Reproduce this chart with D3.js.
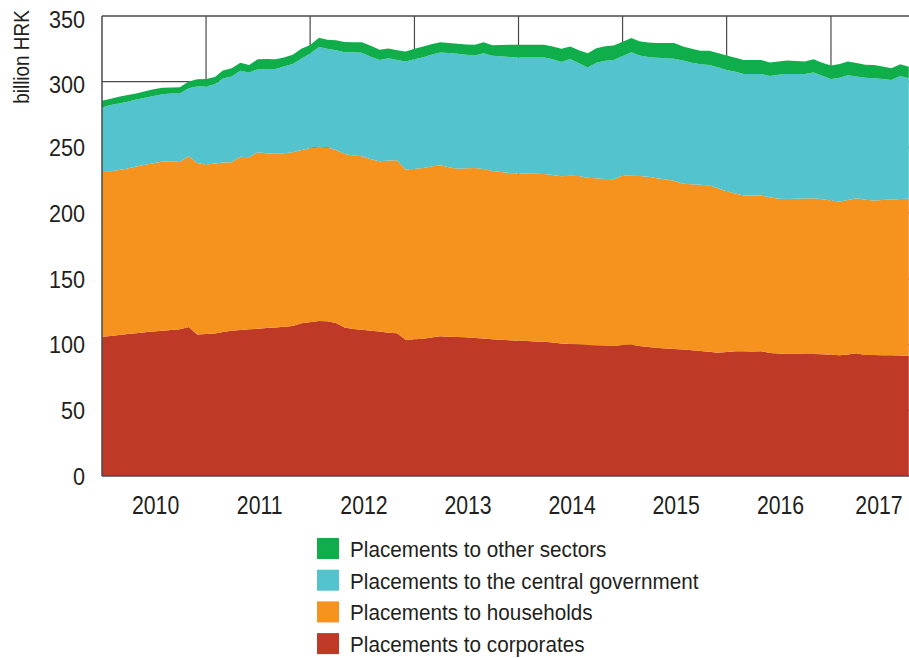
<!DOCTYPE html>
<html>
<head>
<meta charset="utf-8">
<script src="https://cdn.jsdelivr.net/npm/d3@7/dist/d3.min.js"></script>
<style>
  html, body { margin: 0; padding: 0; background: #fff; }
  svg { display: block; }
  text { font-family: "Liberation Sans", Arial, sans-serif; fill: #231f20; }
</style>
</head>
<body>
<svg id="chart" width="909" height="658"></svg>
<script>
// ---- data (billion HRK, monthly, Jan 2010 – Oct 2017) ----
const startMonth = new Date(2010, 0, 1);
const monthCount = 94;

const corporates = [
  106.0,106.5,107.2,108.0,108.7,109.3,110.0,110.5,111.0,111.6,113.3,107.7,
  108.0,108.5,109.5,110.6,111.0,111.6,112.0,112.6,113.0,113.6,114.1,116.2,
  117.0,118.0,117.7,116.5,113.0,111.8,111.2,110.6,110.0,109.0,108.7,103.6,
  104.0,104.4,105.3,106.4,106.0,105.8,105.6,105.0,104.6,104.0,103.7,103.2,
  103.0,102.7,102.4,102.1,101.5,100.9,100.4,100.0,99.7,99.4,99.3,99.0,
  99.6,99.8,99.0,98.2,97.6,97.1,96.6,96.2,95.7,95.2,94.6,93.8,
  94.4,95.0,95.0,94.8,95.0,93.5,93.3,93.1,93.0,92.9,92.8,92.7,
  92.3,91.9,92.5,93.4,92.0,92.0,91.9,91.8,91.6,91.5
];
const households = [
  126.1,125.3,125.6,125.9,126.8,127.5,128.0,128.8,128.4,127.3,130.0,130.5,
  129.0,129.3,129.0,128.1,132.0,130.9,134.3,132.9,132.3,132.0,132.2,131.8,
  132.3,132.6,132.3,131.5,132.0,132.0,132.1,130.4,129.4,131.0,131.5,129.7,
  129.7,130.0,130.2,130.0,129.0,128.0,128.6,129.4,128.9,128.1,127.6,127.3,
  127.2,127.4,127.6,127.7,127.5,127.2,128.1,128.2,127.2,127.1,126.7,126.7,
  129.1,128.7,129.3,129.4,128.9,128.5,128.0,126.2,126.3,126.4,126.5,125.2,
  122.2,120.0,118.4,118.6,118.4,118.5,117.7,117.6,118.0,118.3,118.6,117.8,
  117.3,117.0,117.5,118.0,118.2,117.6,118.1,118.6,119.1,119.4
];
const centralGovernment = [
  48.3,50.4,50.7,50.9,51.0,51.0,51.2,51.1,51.6,52.2,51.7,58.1,
  59.3,60.2,63.9,65.2,65.4,64.5,63.2,64.1,64.4,65.9,67.2,69.5,
  72.2,75.9,75.0,76.0,77.5,78.6,78.7,78.0,77.2,77.8,76.3,82.1,
  83.3,84.3,85.0,85.9,86.8,87.4,86.4,85.6,88.2,87.7,88.0,88.3,
  88.2,88.3,88.4,88.6,88.0,86.9,88.7,85.8,83.9,88.0,90.0,90.9,
  90.8,93.9,91.7,91.2,91.7,92.2,92.8,93.7,92.5,91.7,91.7,92.0,
  92.4,92.5,92.4,92.4,92.5,92.4,94.3,95.2,94.9,94.7,95.6,94.0,
  92.5,94.1,95.0,92.6,92.8,93.0,92.0,90.9,93.7,91.7
];
const otherSectors = [
  5.1,4.8,5.1,5.0,4.5,5.0,5.0,5.1,4.6,4.6,5.1,5.5,
  5.8,5.6,6.1,6.3,6.1,5.8,7.5,7.6,7.4,7.0,7.0,7.5,
  6.5,7.0,7.0,7.5,7.7,7.7,8.0,8.4,7.7,7.4,7.5,7.6,
  8.0,8.1,8.0,7.8,7.7,7.6,7.8,8.1,8.4,8.0,8.7,9.3,
  9.7,9.7,9.7,9.7,9.8,10.0,9.6,10.0,10.9,11.0,11.0,11.0,
  11.0,10.8,10.7,11.0,11.2,11.6,12.0,10.7,10.5,10.2,10.7,10.8,
  11.0,10.8,10.8,10.8,10.7,10.2,10.0,10.2,9.9,9.5,10.1,10.0,
  10.2,10.5,10.4,10.2,10.0,10.2,9.5,8.9,8.9,8.7
];

const seriesKeys = ["corporates", "households", "centralGovernment", "otherSectors"];
const seriesLabels = {
  otherSectors: "Placements to other sectors",
  centralGovernment: "Placements to the central government",
  households: "Placements to households",
  corporates: "Placements to corporates"
};
const seriesColors = {
  otherSectors: "#10ae4b",
  centralGovernment: "#53c3ce",
  households: "#f6921e",
  corporates: "#be3a26"
};
const legendOrder = ["otherSectors", "centralGovernment", "households", "corporates"];
const yTicks = [0, 50, 100, 150, 200, 250, 300, 350];
const yearLabels = [2010, 2011, 2012, 2013, 2014, 2015, 2016, 2017];

(function () {
// ---- build table ----
const months = d3.timeMonth.range(startMonth, d3.timeMonth.offset(startMonth, monthCount));
const table = months.map((d, i) => ({
  date: d,
  corporates: corporates[i],
  households: households[i],
  centralGovernment: centralGovernment[i],
  otherSectors: otherSectors[i]
}));

const svg = d3.select("#chart");
const mLeft = 102, mRight = 909, mTop = 16, mBottom = 476;

const x = d3.scaleTime()
  .domain([months[0], months[months.length - 1]])
  .range([mLeft, 908.8]);
const y = d3.scaleLinear().domain([0, 350]).range([mBottom, mTop]);

const axisColor = "#4a4a4a";

// horizontal gridlines
svg.append("g").selectAll("line")
  .data(yTicks.filter(t => t > 0 && t < 350))
  .join("line")
  .attr("x1", mLeft).attr("x2", mRight)
  .attr("y1", d => y(d)).attr("y2", d => y(d))
  .attr("stroke", axisColor).attr("stroke-width", 1.2);

// vertical gridlines at year boundaries
const yearStarts = yearLabels.slice(1).map(yr => new Date(yr, 0, 1));
svg.append("g").selectAll("line")
  .data(yearStarts)
  .join("line")
  .attr("x1", d => x(d)).attr("x2", d => x(d))
  .attr("y1", mTop).attr("y2", mBottom)
  .attr("stroke", axisColor).attr("stroke-width", 1.2);

// stacked areas
const stacked = d3.stack().keys(seriesKeys)(table);
const area = d3.area()
  .x(d => x(d.data.date))
  .y0(d => y(d[0]))
  .y1(d => y(d[1]));

svg.append("g").selectAll("path")
  .data(stacked)
  .join("path")
  .attr("fill", d => seriesColors[d.key])
  .attr("d", area);

// frame: top border, left axis, bottom axis
svg.append("line").attr("x1", mLeft).attr("x2", mRight).attr("y1", mTop).attr("y2", mTop)
  .attr("stroke", axisColor).attr("stroke-width", 1.5);
svg.append("line").attr("x1", mLeft).attr("x2", mLeft).attr("y1", mTop).attr("y2", mBottom)
  .attr("stroke", axisColor).attr("stroke-width", 1.5);
svg.append("line").attr("x1", mLeft).attr("x2", mRight).attr("y1", mBottom).attr("y2", mBottom)
  .attr("stroke", axisColor).attr("stroke-width", 1.5);

// y axis labels (condensed look via horizontal scale)
const yAxis = d3.axisLeft(y).tickValues(yTicks).tickSize(0).tickPadding(0);
const gy = svg.append("g").attr("transform", "translate(85,0)").call(yAxis);
gy.select(".domain").remove();
gy.attr("font-family", null).attr("font-size", null);
gy.selectAll(".tick")
  .attr("transform", d => `translate(0,${y(d) + (d >= 300 ? 3 : 0)})`);
gy.selectAll("text")
  .attr("font-size", 24)
  .attr("fill", "#231f20")
  .attr("x", 0)
  .attr("dy", "0.36em")
  .attr("transform", "scale(0.9,1)");

// y axis title
svg.append("text")
  .attr("transform", "translate(29,57) rotate(-90) scale(0.86,1)")
  .attr("text-anchor", "middle")
  .attr("font-size", 22)
  .text("billion HRK");

// x axis year labels near mid-year
const xAxis = d3.axisBottom(x)
  .tickValues(yearLabels.map(yr => new Date(yr, 6, 1)))
  .tickFormat(d3.timeFormat("%Y"))
  .tickSize(0).tickPadding(0);
const gx = svg.append("g").attr("transform", `translate(0,${mBottom})`).call(xAxis);
gx.select(".domain").remove();
gx.attr("font-family", null).attr("font-size", null);
gx.selectAll(".tick")
  .attr("transform", d => `translate(${Math.min(x(d) + 2, mRight - 30)},0)`);
gx.selectAll("text")
  .attr("font-size", 25)
  .attr("fill", "#231f20")
  .attr("dy", null)
  .attr("y", 38)
  .attr("transform", "scale(0.85,1)");

// legend
const legend = svg.append("g").attr("transform", "translate(317,538)");
const rows = legend.selectAll("g")
  .data(legendOrder)
  .join("g")
  .attr("transform", (d, i) => `translate(0,${i * 31.7})`);
rows.append("rect")
  .attr("width", 22).attr("height", 21)
  .attr("fill", d => seriesColors[d]);
rows.append("text")
  .attr("transform", "translate(33,19) scale(0.92,1)")
  .attr("font-size", 22.5)
  .text(d => seriesLabels[d]);
})();
</script>
</body>
</html>
